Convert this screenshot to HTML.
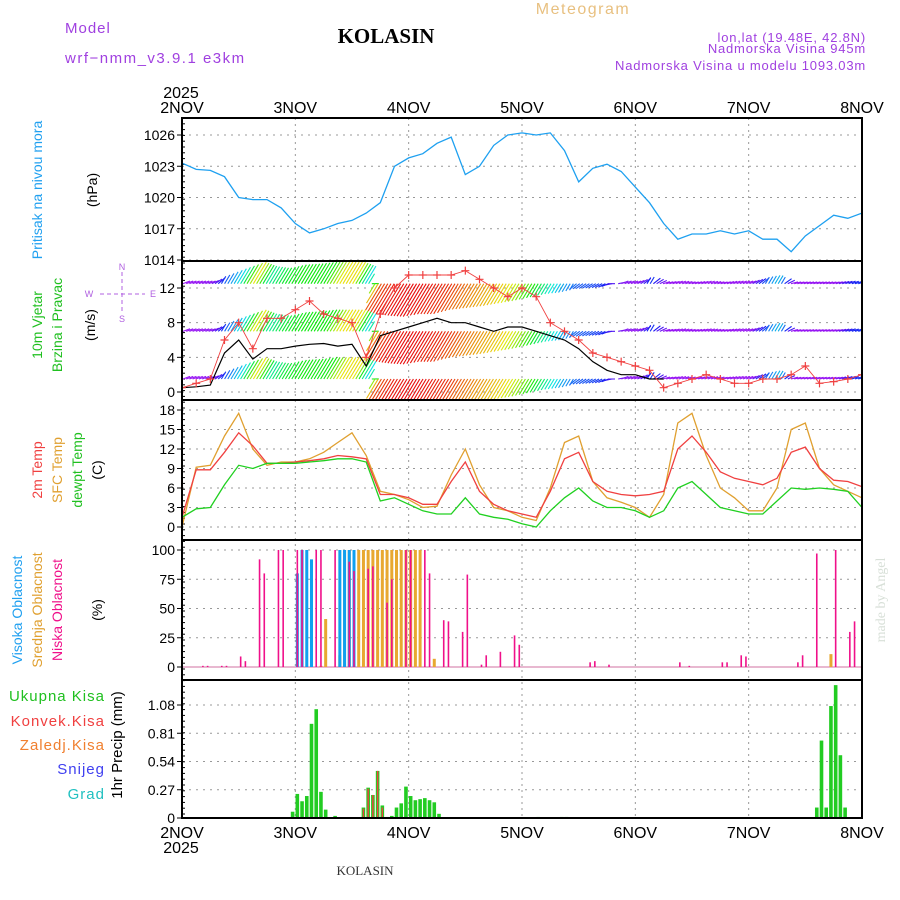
<!DOCTYPE html>
<html><head><meta charset="utf-8">
<style>
html,body{margin:0;padding:0;background:#fff;}
svg{display:block;font-family:"Liberation Sans","DejaVu Sans",sans-serif;}
</style></head>
<body>
<svg id="chart" width="900" height="900" viewBox="0 0 900 900" xmlns="http://www.w3.org/2000/svg">
<rect x="0" y="0" width="900" height="900" fill="#fff"/>
<g id="header">
<text x="65" y="33" font-size="15" fill="#a040e0" letter-spacing="1">Model</text>
<text x="65" y="63" font-size="15" fill="#a040e0" letter-spacing="1.5">wrf−nmm_v3.9.1 e3km</text>
<text x="386" y="43" font-size="21" font-weight="bold" font-family="Liberation Serif,serif" text-anchor="middle" fill="#000">KOLASIN</text>
<text x="583" y="14" font-size="16" fill="#e8c080" text-anchor="middle" letter-spacing="1.5">Meteogram</text>
<text x="866" y="42" font-size="13" fill="#a040e0" text-anchor="end" letter-spacing="0.8">lon,lat (19.48E, 42.8N)</text>
<text x="866" y="53" font-size="13" fill="#a040e0" text-anchor="end" letter-spacing="0.8">Nadmorska Visina 945m</text>
<text x="866" y="70" font-size="13" fill="#a040e0" text-anchor="end" letter-spacing="0.8">Nadmorska Visina u modelu 1093.03m</text>
<text x="181" y="98" font-size="16" fill="#000" text-anchor="middle">2025</text>
<text x="181" y="853" font-size="16" fill="#000" text-anchor="middle">2025</text>
<text x="365" y="875" font-size="13" fill="#333" text-anchor="middle" font-family="Liberation Serif,serif">KOLASIN</text>
<text transform="translate(885,600) rotate(-90)" font-size="14" fill="#d8e0d8" text-anchor="middle" font-family="Liberation Serif,serif">made by Angel</text>
</g>
<g id="labels">
<text transform="translate(42,190) rotate(-90)" font-size="14" fill="#20a0f0" text-anchor="middle">Pritisak na nivou mora</text>
<text transform="translate(97,190) rotate(-90)" font-size="14" fill="#000" text-anchor="middle">(hPa)</text>
<text transform="translate(42,325) rotate(-90)" font-size="14" fill="#20c020" text-anchor="middle">10m Vjetar</text>
<text transform="translate(62,325) rotate(-90)" font-size="14" fill="#20c020" text-anchor="middle">Brzina i Pravac</text>
<text transform="translate(95,325) rotate(-90)" font-size="14" fill="#000" text-anchor="middle">(m/s)</text>
<g fill="#b060e0" font-size="9" stroke="none">
<text x="122" y="270" text-anchor="middle">N</text>
<text x="122" y="322" text-anchor="middle">S</text>
<text x="89" y="297" text-anchor="middle">W</text>
<text x="153" y="297" text-anchor="middle">E</text>
<line x1="100" y1="294" x2="145" y2="294" stroke="#b060e0" stroke-dasharray="4,3"/>
<line x1="122" y1="272" x2="122" y2="314" stroke="#b060e0" stroke-dasharray="4,3"/>
</g>
<text transform="translate(42,470) rotate(-90)" font-size="14" fill="#f04040" text-anchor="middle">2m Temp</text>
<text transform="translate(62,470) rotate(-90)" font-size="14" fill="#e0a030" text-anchor="middle">SFC Temp</text>
<text transform="translate(82,470) rotate(-90)" font-size="14" fill="#20c020" text-anchor="middle">dewpt Temp</text>
<text transform="translate(102,470) rotate(-90)" font-size="14" fill="#000" text-anchor="middle">(C)</text>
<text transform="translate(22,610) rotate(-90)" font-size="14" fill="#20a0f0" text-anchor="middle">Visoka Oblacnost</text>
<text transform="translate(42,610) rotate(-90)" font-size="14" fill="#e0a030" text-anchor="middle">Srednja Oblacnost</text>
<text transform="translate(62,610) rotate(-90)" font-size="14" fill="#f0108a" text-anchor="middle">Niska Oblacnost</text>
<text transform="translate(102,610) rotate(-90)" font-size="14" fill="#000" text-anchor="middle">(%)</text>
<text x="105" y="701" font-size="15" fill="#20c020" text-anchor="end" letter-spacing="1">Ukupna Kisa</text>
<text x="105" y="726" font-size="15" fill="#f04040" text-anchor="end" letter-spacing="1">Konvek.Kisa</text>
<text x="105" y="750" font-size="15" fill="#f08030" text-anchor="end" letter-spacing="1">Zaledj.Kisa</text>
<text x="105" y="774" font-size="15" fill="#4040f0" text-anchor="end" letter-spacing="1">Snijeg</text>
<text x="105" y="799" font-size="15" fill="#20c0c0" text-anchor="end" letter-spacing="1">Grad</text>
<text transform="translate(122,745) rotate(-90)" font-size="15" fill="#000" text-anchor="middle">1hr Precip (mm)</text>
</g>
<g id="plot"></g>
</svg>
<script>
// ---------- data (3-hourly unless noted) ----------
const dayLabels = ["2NOV","3NOV","4NOV","5NOV","6NOV","7NOV","8NOV"];
const pressureTicks = [1014,1017,1020,1023,1026];
const windTicks = [0,4,8,12];
const tempTicks = [0,3,6,9,12,15,18];
const cloudTicks = [0,25,50,75,100];
const precipTicks = [0,0.27,0.54,0.81,1.08];
const pressure = [1023.3,1022.7,1022.6,1022.0,1020.0,1019.8,1019.8,1019.0,1017.5,1016.6,1017.0,1017.5,1017.8,1018.5,1019.5,1023.0,1023.8,1024.2,1025.2,1025.8,1022.2,1023.0,1025.0,1026.0,1026.2,1026.0,1026.2,1024.5,1021.5,1022.8,1023.2,1022.5,1021.0,1019.5,1017.5,1016.0,1016.5,1016.5,1016.8,1016.5,1016.8,1016.0,1016.0,1014.8,1016.3,1017.3,1018.3,1018.0,1018.5];
const windSpeed = [0.5,0.6,0.8,4.5,6.0,3.8,5.0,5.0,5.3,5.5,5.6,5.3,5.5,3.0,6.5,7.0,7.5,8.0,8.5,8.0,8.0,7.5,7.0,7.5,7.5,7.0,6.5,6.0,5.0,3.5,2.5,2.0,2.0,1.5,1.5];
const windGust = [0.5,1.0,1.5,6.0,8.0,5.0,8.5,8.5,9.5,10.5,9.0,8.5,8.0,4.0,9.0,12.0,13.5,13.5,13.5,13.5,14.0,13.0,12.0,11.0,12.0,11.0,8.0,7.0,6.0,4.5,4.0,3.5,3.0,2.5,0.5,1.0,1.5,2.0,1.5,1.0,1.0,1.5,1.5,2.0,3.0,1.0,1.2,1.5,2.0];
const barbRise = [0.3,0.3,0.3,1.0,1.8,2.5,2.0,1.8,2.2,2.3,2.5,2.5,2.5,2.0,-3.0,-3.5,-3.7,-3.8,-3.5,-3.5,-3.0,-2.8,-2.6,-2.3,-2.0,-1.6,-1.2,-1.0,-0.6,-0.5,-0.4,0.3,0.3,0.8,0.2,0.3,0.2,0.3,0.2,0.3,0.3,0.7,1.0,0.2,0.2,0.2,0.2,0.3,0.2];
const barbHue = [275,275,270,220,180,55,160,130,120,120,120,60,55,190,20,5,0,0,5,10,25,35,45,55,80,120,165,200,220,225,235,270,275,230,275,275,275,275,275,275,275,225,190,275,275,275,275,240,230];
const temp2m = [1.5,8.8,8.8,11.5,14.5,12.5,9.8,9.8,10.0,10.2,10.5,11.0,10.8,10.5,5.0,5.0,4.5,3.5,3.5,7.0,10.0,5.5,3.5,2.5,2.0,1.5,5.5,10.5,11.5,7.0,5.5,5.0,4.8,5.0,5.5,12.0,14.0,11.5,8.5,7.5,7.0,6.5,7.5,11.5,12.3,9.0,7.2,7.0,6.2];
const tempSfc = [0,9.2,9.5,14,17.5,12,9.5,10,10,10.5,11.5,13,14.5,11,5.5,5,4.2,3,3.2,8,12,6.5,3,2.5,1.5,1,6,13,14,7,4.5,3.8,3,1.5,5,16,17.5,11,6,4.5,2.5,2.5,6,15,16,9,6.5,5.5,4.5];
const dewpt = [1.5,2.8,3,6.5,9.5,9.0,9.8,9.8,9.8,10,10.2,10.5,10.5,10,4,4.5,3.5,2.5,2.0,2,4.5,2,1.5,1.2,0.5,0,2.5,4.5,6,4,3,3,2.5,1.5,2.5,6,7,5,3,2.5,2.0,2.0,4,6,5.8,6,5.8,5.5,3];
// hourly bars (hour index from 2NOV 00)
const lowCloudHours = [4,5,8,9,12,13,16,17,20,21,24,25,28,29,32,35,36,39,40,43,44,47,48,51,52,55,56,59,60,63,64,67,70,71,86,87,90,105,107,114,115,118,119,130,131,134,138,141,142];
const lowCloudVals  = [1,1,1,1,9,5,92,80,100,100,100,100,100,100,100,90,82,84,86,55,75,100,100,100,80,40,39,30,79,2,10,13,27,19,4,5,2,4,1,4,4,10,9,4,10,97,100,30,39];
const midCloudHours = [27,29,30,33,34,35,36,37,38,39,40,41,42,43,44,45,46,47,48,49,50,53,137];
const midCloudVals  = [17,1,41,10,100,100,100,100,100,100,100,100,100,100,100,100,100,100,100,100,100,7,11];
const highCloudHours = [24,25,26,27,33,34,35,36];
const highCloudVals  = [80,100,100,92,100,100,100,100];
const precipHours = [23,24,25,26,27,28,29,30,32,38,39,40,41,42,43,44,45,46,47,48,49,50,51,52,53,54,75,80,81,134,135,136,137,138,139,140];
const precipVals  = [0.06,0.23,0.16,0.21,0.90,1.04,0.25,0.08,0.02,0.10,0.29,0.22,0.45,0.12,0.01,0.02,0.10,0.14,0.30,0.21,0.17,0.18,0.19,0.17,0.15,0.04,0.01,0.01,0.01,0.10,0.74,0.10,1.07,1.27,0.60,0.10];
const convHours = [38,39,40,41,42];
const convVals  = [0.09,0.28,0.22,0.45,0.10];

// ---------- scales ----------
const X0=182, X1=862, DAYW=(X1-X0)/6;
const xT = t => X0 + t*DAYW;
const x3 = i => xT(i/8);
const xH = h => X0 + 2 + h*DAYW/24;
const P = [{top:118,bot:261},{top:261,bot:400},{top:400,bot:540},{top:540,bot:680},{top:680,bot:818}];
const yP = v => 135 + (1026-v)*(125/12);
const yW = v => 392 - v*(104/12);
const yT = v => 527 - v*(117/18);
const yC = v => 667 - v*1.17;
const yR = v => 818 - v*(113/1.08);

const NS="http://www.w3.org/2000/svg";
const plot=document.getElementById('plot');
function mk(tag,attrs,parent){const e=document.createElementNS(NS,tag);for(const k in attrs)e.setAttribute(k,attrs[k]);(parent||plot).appendChild(e);return e;}

const defs=mk('defs',{});
P.forEach((p,i)=>{const c=mk('clipPath',{id:'clip'+i},defs);mk('rect',{x:X0,y:p.top,width:X1-X0,height:p.bot-p.top},c);});

const grid=mk('g',{});


for(let d=1;d<6;d++){
  const gl=mk('line',{x1:xT(d),x2:xT(d),y1:118,y2:818,stroke:'#999','stroke-dasharray':'2,4'},grid);
  
  
}
function hgrid(ticks,ys,fmt,name){
  const g=mk('g',{});
  
  
  ticks.forEach(v=>{
    const y=ys(v);
    mk('line',{x1:X0,x2:X1,y1:y,y2:y,stroke:'#999','stroke-dasharray':'2,5'},g);
    mk('line',{x1:X0-5,x2:X0,y1:y,y2:y,stroke:'#000'},g);
    const t=mk('text',{x:X0-7,y:y+5,'font-size':14,'text-anchor':'end',fill:'#000'},g);
    t.textContent=fmt(v);
    
    
  });
}
hgrid(pressureTicks,yP,v=>v,'pressure-y-axis');
hgrid(windTicks,yW,v=>v,'wind-y-axis');
hgrid(tempTicks,yT,v=>v,'temp-y-axis');
hgrid(cloudTicks,yC,v=>v,'cloud-y-axis');
hgrid(precipTicks,yR,v=>v===0?'0':v.toFixed(2),'precip-y-axis');
for(let y=118;y<818;y+=5.8){mk('line',{x1:X0,x2:X0+3,y1:y,y2:y,stroke:'#000'});}

dayLabels.forEach((lab,i)=>{
  const a=mk('text',{x:xT(i),y:113,'font-size':16,'text-anchor':'middle',fill:'#000'});
  a.textContent=lab;
  
  
  const b=mk('text',{x:xT(i),y:838,'font-size':16,'text-anchor':'middle',fill:'#000'});
  b.textContent=lab;
  
  
});

function polyline(arr,xf,yf,color,clip,name,w){
  const pts=arr.map((v,i)=>xf(i).toFixed(1)+','+yf(v).toFixed(1)).join(' ');
  const e=mk('polyline',{points:pts,fill:'none',stroke:color,'stroke-width':w||1.3,'clip-path':'url(#'+clip+')'});
  
  
  return e;
}
polyline(pressure,x3,yP,'#1ea0f0','clip0','pressure-line');

const wg=mk('g',{'clip-path':'url(#clip1)'});


const bases=[12.5,7,1.5];
function interp(arr,f){const i=Math.floor(f),j=Math.min(i+1,arr.length-1),r=f-i;return arr[i]*(1-r)+arr[j]*r;}
for(let x=X0+1;x<X1;x+=3.2){
  const f=(x-X0)/DAYW*8;
  if(f>barbRise.length-1)break;
  const rise=interp(barbRise,f), hue=interp(barbHue,f);
  const col='hsl('+hue.toFixed(0)+',90%,'+(hue>200?'52%':'48%')+')';
  bases.forEach(b=>{
    const y0=yW(b), y1=yW(b+rise);
    const rp=Math.abs(y1-y0);
    const dx=rp<6?7:rp*0.6;
    const x1=rise>=0?x+dx:x-dx;
    mk('line',{x1:x,y1:y0,x2:x1,y2:y1,stroke:col,'stroke-width':1.1},wg);
  });
}
polyline(windSpeed,x3,yW,'#000','clip1','wind-speed-line',1.2);
polyline(windGust,x3,yW,'#f04040','clip1','wind-gust-line',0.9);
const gg=mk('g',{'clip-path':'url(#clip1)'});


windGust.forEach((v,i)=>{const x=x3(i),y=yW(v);
  mk('path',{d:`M${x-4},${y}H${x+4}M${x},${y-4}V${y+4}`,stroke:'#f04040','stroke-width':1.2},gg);});

polyline(tempSfc,x3,yT,'#e0a030','clip2','sfc-temp-line');
polyline(temp2m,x3,yT,'#f04040','clip2','temp-2m-line');
polyline(dewpt,x3,yT,'#20d020','clip2','dewpt-line');

function bars(hours,vals,yf,base,color,w,name,clip){
  const g=mk('g',{'clip-path':'url(#'+clip+')'});
  
  
  hours.forEach((h,i)=>{const x=xH(h),y=yf(vals[i]);
    mk('rect',{x:x-w/2,y:y,width:w,height:Math.max(base-y,0.5),fill:color},g);});
}
mk('line',{x1:X0,x2:X1,y1:667,y2:667,stroke:'#e0a0c0','stroke-width':1.5});
bars(midCloudHours,midCloudVals,yC,667,'#e8a830',3,'mid-cloud-bars','clip3');
bars(highCloudHours,highCloudVals,yC,667,'#10a0f0',3,'high-cloud-bars','clip3');
bars(lowCloudHours,lowCloudVals,yC,667,'#f0108a',1.6,'low-cloud-bars','clip3');

bars(precipHours,precipVals,yR,818,'#22cc22',3.6,'total-precip-bars','clip4');
bars(convHours,convVals,yR,818,'#f04040',1.4,'convective-precip-bars','clip4');

const fr=mk('g',{});


mk('rect',{x:X0,y:118,width:X1-X0,height:700,fill:'none',stroke:'#000','stroke-width':2},fr);
[261,400,540,680].forEach(y=>mk('line',{x1:X0,x2:X1,y1:y,y2:y,stroke:'#000','stroke-width':2},fr));
</script>
</body></html>
